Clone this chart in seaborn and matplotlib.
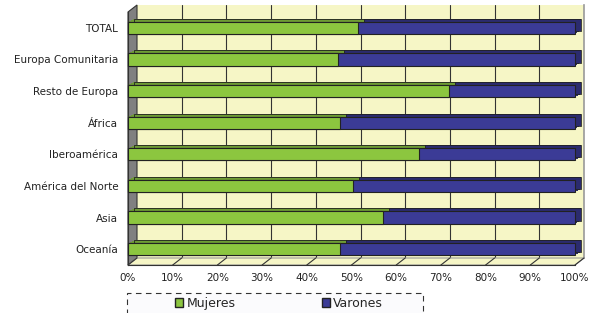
import numpy as np
import pandas as pd
import matplotlib
matplotlib.use("Agg")
import matplotlib.pyplot as plt
import matplotlib.transforms as mtransforms
from matplotlib.patches import Polygon, Rectangle, Patch
import seaborn as sns

categories = ["TOTAL", "Europa Comunitaria", "Resto de Europa", "África",
              "Iberoamérica", "América del Norte", "Asia", "Oceanía"]
mujeres = [51.5, 47.0, 71.9, 47.4, 65.2, 50.3, 57.1, 47.4]
varones = [48.5, 53.0, 28.1, 52.6, 34.8, 49.7, 42.9, 52.6]
xticks = list(range(0, 101, 10))
xlabels = [f"{t}%" for t in xticks]

green = "#8cc63f"
green_dark = "#6e9c34"
blue = "#3b3b96"
blue_dark = "#2b2b6e"
wall_col = "#f6f6c6"
side_col = "#808080"

df = pd.DataFrame({"cat": categories, "Mujeres": mujeres, "Varones": varones})
df["total"] = df["Mujeres"] + df["Varones"]

sns.set_style("white")
plt.rcParams["font.family"] = ["DejaVu Sans"]

W, H = 590, 313
fig = plt.figure(figsize=(5.9, 3.13), dpi=100)

# front plane / back wall (pixels, top origin)
L, R, T, B = 128, 575, 12, 265
DX, DY = 9, 7

def fx(x):
    return x / W

def fy(y):
    return 1 - y / H

wall = fig.add_axes([fx(L + DX), fy(B - DY), fx(R - L), (B - T) / H], zorder=0)
wall.set_facecolor(wall_col)
wall.set_xlim(0, 100)
wall.set_ylim(0, 1)
wall.set_xticks(xticks[1:-1])
wall.grid(axis="x", color="#333333", lw=0.8)
wall.grid(axis="y", visible=False)
wall.tick_params(length=0, labelbottom=False, labelleft=False)
for s in ["top", "left", "bottom"]:
    wall.spines[s].set_visible(False)
wall.spines["right"].set_color("#999999")
wall.spines["right"].set_linewidth(1.2)

# side wall and floor
side = Polygon([(fx(L), fy(T)), (fx(L + DX), fy(T - DY)), (fx(L + DX), fy(B - DY)), (fx(L), fy(B))],
               closed=True, transform=fig.transFigure, facecolor=side_col,
               edgecolor="#333333", lw=0.8, clip_on=False, zorder=5)
floor = Polygon([(fx(L), fy(B)), (fx(R), fy(B)), (fx(R + DX), fy(B - DY)), (fx(L + DX), fy(B - DY))],
                closed=True, transform=fig.transFigure, facecolor=wall_col,
                edgecolor="#999999", lw=0.8, clip_on=False, zorder=5)
wall.add_artist(side)
wall.add_artist(floor)

ax = fig.add_axes([fx(L), fy(B), fx(R - L), (B - T) / H], zorder=1)
ax.patch.set_alpha(0)

sns.barplot(data=df, x="total", y="cat", orient="h", color=blue, saturation=1,
            width=0.39, edgecolor="#222222", linewidth=0.8, ax=ax)
n = len(ax.patches)
sns.barplot(data=df, x="Mujeres", y="cat", orient="h", color=green, saturation=1,
            width=0.39, edgecolor="#222222", linewidth=0.8, ax=ax)
blue_bars = ax.patches[:n]
green_bars = ax.patches[n:]

# 3d depth of bars
for bars, col, z in [(blue_bars, blue_dark, 1), (green_bars, green_dark, 1.5)]:
    for p in bars:
        for k in range(1, 7):
            tr = mtransforms.offset_copy(ax.transData, fig=fig, x=k * 1.0, y=k * 0.5, units="dots")
            ax.add_patch(Rectangle((p.get_x(), p.get_y()), p.get_width(), p.get_height(),
                                   transform=tr, facecolor=col, edgecolor="none",
                                   zorder=z, clip_on=False))
        tr = mtransforms.offset_copy(ax.transData, fig=fig, x=6, y=3, units="dots")
        ax.add_patch(Rectangle((p.get_x(), p.get_y()), p.get_width(), p.get_height(),
                               transform=tr, facecolor="none", edgecolor="#222222",
                               lw=0.6, zorder=z, clip_on=False))
for p in blue_bars:
    p.set_zorder(2)
    p.set_clip_on(False)
for p in green_bars:
    p.set_zorder(3)
    p.set_clip_on(False)

ax.set_xlim(0, 100)
ax.set_ylim(len(categories) - 0.5, -0.5)
ax.set_xticks(xticks)
ax.set_xticklabels(xlabels)
ax.set_xlabel("")
ax.set_ylabel("")
ax.set_yticks(np.arange(-0.5, len(categories)), minor=True)
ax.tick_params(axis="y", which="major", length=0, pad=7, labelsize=7.5, colors="#222222")
ax.tick_params(axis="y", which="minor", length=3, color="#333333", width=0.8)
ax.tick_params(axis="x", length=3, color="#333333", width=0.8, labelsize=7.5,
               pad=3, colors="#222222")
for s in ["top", "right"]:
    ax.spines[s].set_visible(False)
ax.spines["left"].set_color("#333333")
ax.spines["bottom"].set_color("#333333")
ax.spines["left"].set_linewidth(0.8)
ax.spines["bottom"].set_linewidth(0.8)

# diagonal tick lines on the floor
for t in xticks:
    ax.annotate("", xy=(t, len(categories) - 0.5), xycoords="data",
                xytext=(DX * 72 / 100, DY * 72 / 100), textcoords="offset points",
                arrowprops=dict(arrowstyle="-", color="#333333", lw=0.8,
                                shrinkA=0, shrinkB=0),
                annotation_clip=False)

# legend box (dashed, runs off the bottom of the image)
box = Rectangle((fx(127), fy(325)), fx(423 - 127), (325 - 293) / H,
                transform=fig.transFigure, facecolor="#fbfbfd", edgecolor="#333333",
                lw=0.8, linestyle=(0, (5, 4)), clip_on=False, zorder=2)
fig.add_artist(box)

handles = [Patch(facecolor=green, edgecolor="#222222", label="Mujeres"),
           Patch(facecolor=blue, edgecolor="#222222", label="Varones")]
leg = fig.legend(handles=handles, loc="center left", ncol=2,
                 bbox_to_anchor=(fx(175), fy(303.5)),
                 frameon=False, fontsize=9, handlelength=0.65, handleheight=0.65,
                 handletextpad=0.25, columnspacing=6.9, borderaxespad=0, borderpad=0)
leg.set_zorder(3)

fig.savefig("out.png", dpi=100)
